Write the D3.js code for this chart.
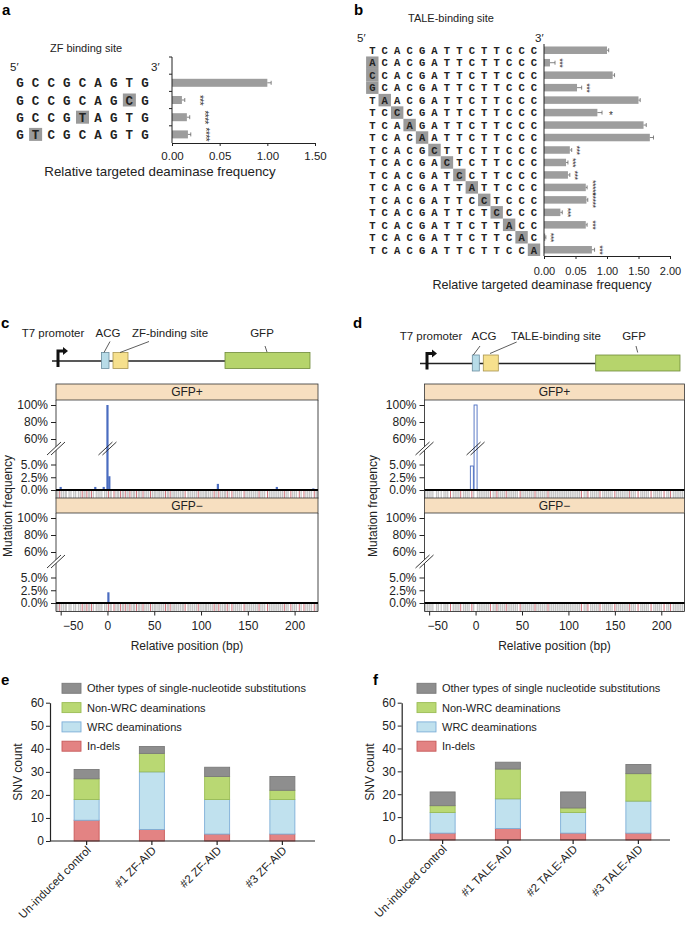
<!DOCTYPE html>
<html><head><meta charset="utf-8">
<script src="https://cdn.jsdelivr.net/npm/d3@7"></script>
<style>
body{margin:0;background:#fff;}
svg{display:block;font-family:"Liberation Sans",Arial,sans-serif;}
</style></head><body>
<svg id="fig" width="685" height="926"></svg>
<script>
// ================= DATA =================
// Panel a : ZF binding site variants
const zfSeqs  = ["GCCGCAGTG","GCCGCAGCG","GCCGTAGTG","GTCGCAGTG"];
const zfMut   = [-1, 7, 4, 1];
const zfFreq  = [1.00, 0.0104, 0.0156, 0.0167];
const zfErr   = [0.04, 0.003, 0.003, 0.003];
const zfStars = ["", "***", "****", "****"];
const zfTicks = [0, 0.05, 1.00, 1.50];

// Panel b : TALE binding site variants
const taleSeqs = ["TCACGATTCTTCCC","ACACGATTCTTCCC","CCACGATTCTTCCC","GCACGATTCTTCCC",
  "TAACGATTCTTCCC","TCCCGATTCTTCCC","TCAAGATTCTTCCC","TCACAATTCTTCCC","TCACGCTTCTTCCC",
  "TCACGACTCTTCCC","TCACGATCCTTCCC","TCACGATTATTCCC","TCACGATTCCTCCC","TCACGATTCTCCCC",
  "TCACGATTCTTACC","TCACGATTCTTCAC","TCACGATTCTTCCA"];
const taleMut   = [-1,0,0,0,1,2,3,4,5,6,7,8,9,10,11,12,13];
const taleFreq  = [1.00,0.0095,1.09,0.096,1.50,0.71,1.58,1.68,0.041,0.035,0.038,0.36,0.38,0.026,0.36,0.002,0.545];
const taleErr   = [0.027,0.008,0.03,0.14,0.027,0.14,0.043,0.058,0.003,0.003,0.003,0.04,0.04,0.003,0.04,0.001,0.08];
const taleStars = ["","***","","***","","*","","","***","***","***","*****","*****","***","***","***","***"];
const taleTicks = [0, 0.05, 1.00, 1.50, 2.00];

// Panels c/d : mutation frequency along reporter
const relTicks  = [-50, 0, 50, 100, 150, 200];
const freqTicks = [0, 2.5, 5, 60, 80, 100];
const zfPlusPos   = [-50, -13, -4, 0, 2, 118, 181, 220];
const zfPlusVal   = [0.6, 0.6, 0.6, 100, 2.7, 1.2, 0.6, 0.3];
const zfMinusPos  = [1];
const zfMinusVal  = [2.1];
const talePlusPos  = [-4, 0];
const talePlusVal  = [4.7, 100];
const taleMinusPos = [];
const taleMinusVal = [];
const zfRugRed  = [-51,-27,-22,-17,1,7,14,19,24,31,38,46,62,67,83,97,114,119,128,133,146,162,171,189,196,205,210,221];
const zfRugGray = [-54,-53,-49,-47,-45,-44,-41,-39,-36,-34,-31,-29,-25,-24,-20,-19,-15,-12,-10,-8,-6,-3,-1,3,4,9,11,12,16,17,21,22,26,28,29,33,34,36,40,42,44,48,50,51,53,55,56,58,60,64,65,69,71,72,74,76,78,80,81,86,87,89,91,93,95,99,101,103,105,106,108,110,112,116,117,121,123,125,126,130,135,137,139,141,143,148,150,152,154,156,158,160,164,166,168,173,175,177,179,181,183,185,187,191,193,198,200,202,207,212,214,216,218,223,224];
const taleRugRed  = [-27,-16,-4,16,23,33,48,64,78,114,121,134,150,166,175,189,203,210];
const taleRugGray = [-54,-52,-50,-48,-46,-42,-40,-37,-34,-32,-30,-24,-22,-20,-18,-13,-11,-9,-7,-2,2,4,6,8,10,12,14,19,21,25,27,29,31,35,37,39,41,43,45,50,52,54,56,58,60,62,66,68,70,72,74,76,80,82,84,86,88,90,92,94,96,98,100,102,104,106,108,110,112,117,119,124,126,128,130,132,137,139,141,143,145,147,152,154,156,158,160,162,164,168,170,172,178,180,182,184,186,192,194,196,198,200,206,208,213,215,217,219,221,223];

// Panels e/f : SNV counts
const snvKeys   = ["indels","wrc","nonwrc","other"];
const snvLabels = ["In-dels","WRC deaminations","Non-WRC deaminations","Other types of single-nucleotide substitutions"];
const snvLabelsF= ["In-dels","WRC deaminations","Non-WRC deaminations","Other types of single nucleotide substitutions"];
const eCats    = ["Un-induced control","#1 ZF-AID","#2 ZF-AID","#3 ZF-AID"];
const eIndels  = [9, 5, 3, 3];
const eWRC     = [9, 25, 15, 15];
const eNonWRC  = [9, 8, 10, 4];
const eOther   = [4, 3, 4, 6];
const fCats    = ["Un-induced control","#1 TALE-AID","#2 TALE-AID","#3 TALE-AID"];
const fIndels  = [3, 5, 3, 3];
const fWRC     = [9, 13, 9, 14];
const fNonWRC  = [3, 13, 2, 12];
const fOther   = [6, 3, 7, 4];
const snvTicks = [0, 10, 20, 30, 40, 50, 60];

// ================= STYLE =================
const MONO = "'Courier New','Liberation Mono',monospace";
const barGray = "#9d9d9d", hiGray = "#9a9a9a";
const segFill   = {indels:"#e38383", wrc:"#c0e1ee", nonwrc:"#b9d873", other:"#8e8e8e"};
const segStroke = {indels:"#c75a5a", wrc:"#7daed8", nonwrc:"#9bbd55", other:"#7a7a7a"};

const svg = d3.select("#fig");

function label(t, x, y){
  svg.append("text").attr("x",x).attr("y",y).attr("font-size",15).attr("font-weight","bold").text(t);
}
function styleAxis(g, fs){
  g.attr("font-family","Liberation Sans, Arial, sans-serif").attr("font-size",fs);
  g.selectAll("text").attr("fill","#222");
  g.selectAll("line,path").attr("stroke","#222");
}

// ================= PANEL A / B =================
function seqPanel(o){
  const g = svg.append("g");
  const rows = (o.header ? ["hdr"] : []).concat(d3.range(o.seqs.length));
  const y = d3.scaleBand().domain(rows).range([o.y0, o.y1]);
  const n = o.ticks.length;
  const x = d3.scaleLinear().domain(o.ticks).range(o.ticks.map((d,i)=> o.x0 + i*(o.x1-o.x0)/(n-1)));
  const L = o.seqs[0].length;
  const xl = d3.scalePoint().domain(d3.range(L)).range([o.l0, o.l1]);
  const cy = i => y(i) + y.bandwidth()/2;

  g.append("text").attr("x",o.titleX).attr("y",o.titleY).attr("text-anchor","middle").attr("font-size",11).attr("fill","#222").text(o.title);
  g.append("text").attr("x",o.p5x).attr("y",o.primeY).attr("font-size",11.5).attr("fill","#222").text("5′");
  g.append("text").attr("x",o.p3x).attr("y",o.primeY).attr("font-size",11.5).attr("fill","#222").text("3′");

  o.seqs.forEach((s,i)=>{
    if(o.mut[i] >= 0){
      g.append("rect").attr("x", xl(o.mut[i]) - o.box/2).attr("y", cy(i) - o.boxH/2)
        .attr("width", o.box).attr("height", o.boxH).attr("fill", hiGray);
    }
    s.split("").forEach((c,j)=>{
      g.append("text").attr("x", xl(j)).attr("y", cy(i)).attr("dy","0.36em")
        .attr("text-anchor","middle").attr("font-family",MONO).attr("font-weight","bold")
        .attr("font-size",o.fs).attr("fill","#222").text(c);
    });
  });

  // bars
  const bh = o.barH;
  g.selectAll(".bar").data(o.freq).enter().append("rect")
    .attr("x", x(0)).attr("y",(d,i)=> cy(i)-bh/2)
    .attr("width",(d)=> x(d)-x(0)).attr("height",bh).attr("fill",barGray);
  // error bars
  o.freq.forEach((v,i)=>{
    const xe = x(v + o.err[i]);
    g.append("line").attr("x1",x(v)).attr("x2",xe).attr("y1",cy(i)).attr("y2",cy(i)).attr("stroke","#666").attr("stroke-width",0.8);
    g.append("line").attr("x1",xe).attr("x2",xe).attr("y1",cy(i)-2).attr("y2",cy(i)+2).attr("stroke","#666").attr("stroke-width",0.8);
    if(o.stars[i]){
      const sx = xe + (o.stars[i] === "*" ? o.starOff1 : o.starOff);
      if(o.stars[i] === "*"){
        g.append("text").attr("x",sx).attr("y",cy(i)).attr("dy","0.6em").attr("text-anchor","middle")
          .attr("font-size",o.starFs+1).attr("fill","#333").text("*");
      } else {
        g.append("text").attr("transform",`translate(${sx},${cy(i)}) rotate(90)`).attr("dy","0.62em")
          .attr("text-anchor","middle").attr("font-size",o.starFs).attr("letter-spacing",-0.5).attr("fill","#333").text(o.stars[i]);
      }
    }
  });

  // axes
  g.append("line").attr("x1",o.x0).attr("x2",o.x0).attr("y1",o.y0).attr("y2",o.y1).attr("stroke","#222");
  if(o.header){
    rows.forEach(r=>{
      g.append("line").attr("x1",o.x0-3).attr("x2",o.x0).attr("y1",y(r)).attr("y2",y(r)).attr("stroke","#222");
    });
  }
  const ax = g.append("g").attr("transform",`translate(0,${o.y1})`)
    .call(d3.axisBottom(x).tickValues(o.ticks).tickFormat(d3.format(".2f")).tickSize(3).tickPadding(o.tickPad).tickSizeOuter(0));
  styleAxis(ax, o.tickFs);
  g.append("text").attr("x",o.xlabX).attr("y",o.xlabY).attr("text-anchor","middle").attr("font-size",o.xlabFs).attr("fill","#222")
    .text("Relative targeted deaminase frequency");
}

label("a", 2, 15);
seqPanel({seqs:zfSeqs, mut:zfMut, freq:zfFreq, err:zfErr, stars:zfStars, ticks:zfTicks, header:true,
  y0:57, y1:143, x0:172, x1:315, l0:20, l1:145, fs:12.5, box:13, boxH:13, barH:8,
  title:"ZF binding site", titleX:86, titleY:52, p5x:10, p3x:151, primeY:71,
  starOff:17, starOff1:12, starFs:10, tickPad:6, tickFs:11.5, xlabX:160, xlabY:176, xlabFs:13.3});

label("b", 354, 15);
seqPanel({seqs:taleSeqs, mut:taleMut, freq:taleFreq, err:taleErr, stars:taleStars, ticks:taleTicks, header:false,
  y0:44, y1:256, x0:544, x1:670, l0:372.3, l1:534, fs:10.5, box:12.4, boxH:12.5, barH:7.5,
  title:"TALE-binding site", titleX:451, titleY:22, p5x:357, p3x:535, primeY:42,
  starOff:8, starOff1:9, starFs:9, tickPad:8, tickFs:11, xlabX:542, xlabY:289, xlabFs:12.6});

// ================= PANEL C / D =================
function mutPanel(o){
  const g = svg.append("g");
  const dy = o.dy;
  // --- construct diagram ---
  g.append("line").attr("x1",o.lineX0).attr("x2",o.gfp[0]).attr("y1",361+dy).attr("y2",361+dy).attr("stroke","#222").attr("stroke-width",1.3);
  const px = o.promX;
  g.append("path").attr("d",`M${px},${367+dy} V${351+dy} H${px+6}`).attr("fill","none").attr("stroke","#111").attr("stroke-width",3);
  g.append("path").attr("d",`M${px+5},${347+dy} L${px+10},${351+dy} L${px+5},${355+dy} Z`).attr("fill","#111");
  g.append("rect").attr("x",o.acg[0]).attr("y",352.5+dy).attr("width",o.acg[1]-o.acg[0]).attr("height",16).attr("fill","#b8dce8").attr("stroke","#6b8ea0").attr("stroke-width",0.8);
  g.append("rect").attr("x",o.bind[0]).attr("y",352.5+dy).attr("width",o.bind[1]-o.bind[0]).attr("height",16).attr("fill","#f6e08d").attr("stroke","#a89450").attr("stroke-width",0.8);
  g.append("rect").attr("x",o.gfp[0]).attr("y",352.5+dy).attr("width",o.gfp[1]-o.gfp[0]).attr("height",16).attr("fill","#b6d46c").attr("stroke","#6f8a3a").attr("stroke-width",0.8);
  const ty = 337 + dy;
  [["T7 promoter",o.lab[0]],["ACG",o.lab[1]],[o.bindName,o.lab[2]],["GFP",o.lab[3]]].forEach(([t,xx])=>{
    g.append("text").attr("x",xx).attr("y",ty).attr("text-anchor","middle").attr("font-size",11.5).attr("fill","#222").text(t);
  });
  o.leaders.forEach(l=>{
    g.append("line").attr("x1",l[0]).attr("y1",l[1]+dy).attr("x2",l[2]).attr("y2",l[3]+dy).attr("stroke","#333").attr("stroke-width",0.8);
  });

  // --- plots ---
  const fL = o.fL, fR = o.fR;
  const x = d3.scaleLinear().domain([-55,225]).range([fL,fR]);
  const panels = [
    {name:"GFP+", sTop:384, pTop:400, pos:o.plusPos, val:o.plusVal, barBreak:true},
    {name:"GFP−", sTop:498, pTop:513, pos:o.minusPos, val:o.minusVal, barBreak:false}
  ];
  panels.forEach(p=>{
    const y = d3.scaleLinear().domain([0,5,60,100]).range([p.pTop+90, p.pTop+64.5, p.pTop+39, p.pTop+5]);
    // strip
    g.append("rect").attr("x",fL).attr("y",p.sTop).attr("width",fR-fL).attr("height",p.pTop-p.sTop).attr("fill","#f7dfc0").attr("stroke","#333").attr("stroke-width",0.8);
    g.append("text").attr("x",(fL+fR)/2).attr("y",(p.sTop+p.pTop)/2).attr("dy","0.36em").attr("text-anchor","middle").attr("font-size",12).attr("fill","#222").text(p.name);
    // rug
    const r0 = p.pTop+90, r1 = p.pTop+98.5;
    o.rugGray.forEach(b=> g.append("line").attr("x1",x(b)).attr("x2",x(b)).attr("y1",r0).attr("y2",r1).attr("stroke","#c4c4c4").attr("stroke-width",1.3));
    o.rugRed.forEach(b=> g.append("line").attr("x1",x(b)).attr("x2",x(b)).attr("y1",r0).attr("y2",r1).attr("stroke","#c8606a").attr("stroke-width",0.9));
    // bars
    p.pos.forEach((b,i)=>{
      if(o.outline){
        g.append("rect").attr("x",x(b)-1.5).attr("y",y(p.val[i])).attr("width",3).attr("height",y(0)-y(p.val[i]))
          .attr("fill","#fff").attr("stroke","#4a6cc0").attr("stroke-width",0.9);
      } else {
        g.append("rect").attr("x",x(b)-1.1).attr("y",y(p.val[i])).attr("width",2.2).attr("height",y(0)-y(p.val[i])).attr("fill","#4a6cc0");
      }
    });
    // frame sides
    g.append("line").attr("x1",fL).attr("x2",fL).attr("y1",p.pTop).attr("y2",r1).attr("stroke","#333").attr("stroke-width",0.9);
    g.append("line").attr("x1",fR).attr("x2",fR).attr("y1",p.pTop).attr("y2",r1).attr("stroke","#333").attr("stroke-width",0.9);
    // baseline
    g.append("line").attr("x1",fL).attr("x2",fR).attr("y1",y(0)).attr("y2",y(0)).attr("stroke","#000").attr("stroke-width",2);
    // y axis
    const ay = g.append("g").attr("transform",`translate(${fL},0)`)
      .call(d3.axisLeft(y).tickValues(freqTicks).tickFormat(d=> d>=60 ? d+"%" : d.toFixed(1)+"%").tickSize(5).tickPadding(3).tickSizeOuter(0));
    styleAxis(ay, 12);
    ay.select(".domain").remove();
    // breaks
    const by = p.pTop + 48.5;
    const brk = (cx, fillWhite)=>{
      if(fillWhite) g.append("path").attr("d",`M${cx-9},${by+6.5} L${cx+5},${by-6.5} L${cx+9},${by-6.5} L${cx-5},${by+6.5} Z`).attr("fill","#fff");
      g.append("line").attr("x1",cx-9).attr("y1",by+6.5).attr("x2",cx+5).attr("y2",by-6.5).attr("stroke","#222").attr("stroke-width",0.9);
      g.append("line").attr("x1",cx-5).attr("y1",by+6.5).attr("x2",cx+9).attr("y2",by-6.5).attr("stroke","#222").attr("stroke-width",0.9);
    };
    brk(fL, true);
    if(p.barBreak) brk(x(0), false);
    // bottom frame line
    g.append("line").attr("x1",fL).attr("x2",fR).attr("y1",r1).attr("y2",r1).attr("stroke","#333").attr("stroke-width",0.9);
  });
  // x axis
  const ax = g.append("g").attr("transform",`translate(0,${611.5})`)
    .call(d3.axisBottom(x).tickValues(relTicks).tickSize(4).tickPadding(6).tickSizeOuter(0));
  styleAxis(ax, 12);
  ax.select(".domain").remove();
  ax.selectAll(".tick").filter(d=> d === -50).select("text").attr("dx", o.m50dx);
  g.append("text").attr("x",(fL+fR)/2).attr("y",650).attr("text-anchor","middle").attr("font-size",12).attr("fill","#222").text("Relative position (bp)");
  g.append("text").attr("transform",`translate(${o.ylabX},506) rotate(-90)`).attr("text-anchor","middle").attr("font-size",12).attr("fill","#222").text("Mutation frequency");
}

label("c", 1, 328);
mutPanel({dy:0, lineX0:52, promX:58, acg:[101.5,109], bind:[113,128], gfp:[225,310],
  bindName:"ZF-binding site", lab:[53,108,170,262],
  leaders:[[110,341.5,104,352.5],[149,341.5,120,352.5],[265,346,267,352]],
  fL:56, fR:318, plusPos:zfPlusPos, plusVal:zfPlusVal, minusPos:zfMinusPos, minusVal:zfMinusVal,
  rugRed:zfRugRed, rugGray:zfRugGray, outline:false, m50dx:12, ylabX:12});

label("d", 353, 328);
mutPanel({dy:2.5, lineX0:420, promX:427, acg:[472.3,479.3], bind:[483.3,498.3], gfp:[595.7,680],
  bindName:"TALE-binding site", lab:[431,484,556,634],
  leaders:[[480,343.5,473.3,352.5],[516.7,339.5,490,351],[636,343.5,637.7,350]],
  fL:424.5, fR:684.5, plusPos:talePlusPos, plusVal:talePlusVal, minusPos:taleMinusPos, minusVal:taleMinusVal,
  rugRed:taleRugRed, rugGray:taleRugGray, outline:true, m50dx:8, ylabX:377});

// ================= PANEL E / F =================
function snvPanel(o){
  const g = svg.append("g");
  const data = o.cats.map((c,i)=>({cat:c, indels:o.indels[i], wrc:o.wrc[i], nonwrc:o.nonwrc[i], other:o.other[i]}));
  const stack = d3.stack().keys(snvKeys)(data);
  const y = d3.scaleLinear().domain([0,60]).range([o.yb, o.yt]);
  const x = d3.scaleBand().domain(o.cats).range([o.bx0, o.bx1]).paddingInner(0.617).paddingOuter(0.3085);
  stack.forEach(layer=>{
    g.selectAll(null).data(layer).enter().append("rect")
      .attr("x", d=> x(d.data.cat)).attr("width", x.bandwidth())
      .attr("y", d=> y(d[1])).attr("height", d=> y(d[0]) - y(d[1]))
      .attr("fill", segFill[layer.key]).attr("stroke", segStroke[layer.key]).attr("stroke-width",0.9);
  });
  // axes
  const ay = g.append("g").attr("transform",`translate(${o.ax},0)`)
    .call(d3.axisLeft(y).tickValues(snvTicks).tickSize(4).tickPadding(2).tickSizeOuter(0));
  styleAxis(ay, 12);
  ay.select(".domain").attr("stroke-width",1.2);
  g.append("line").attr("x1",o.ax).attr("x2",o.axR).attr("y1",o.yb).attr("y2",o.yb).attr("stroke","#222").attr("stroke-width",1.2);
  o.cats.forEach(c=>{
    const cx = x(c) + x.bandwidth()/2;
    g.append("line").attr("x1",cx).attr("x2",cx).attr("y1",o.yb).attr("y2",o.yb+4).attr("stroke","#222").attr("stroke-width",1.2);
    g.append("text").attr("transform",`translate(${cx+5},${o.yb+10}) rotate(-45)`).attr("text-anchor","end")
      .attr("font-size",11.5).attr("fill","#222").text(c);
  });
  g.append("text").attr("transform",`translate(${o.ylabX},772) rotate(-90)`).attr("text-anchor","middle").attr("font-size",12).attr("fill","#222").text("SNV count");
  // legend (top-down: other, nonwrc, wrc, indels)
  const order = [3,2,1,0];
  order.forEach((k,r)=>{
    const ly = 688.3 + r*19.3;
    g.append("rect").attr("x",o.lx).attr("y",ly-5).attr("width",19).attr("height",10)
      .attr("fill",segFill[snvKeys[k]]).attr("stroke",segStroke[snvKeys[k]]).attr("stroke-width",0.9);
    g.append("text").attr("x",o.lx+25).attr("y",ly).attr("dy","0.36em").attr("font-size",11).attr("fill","#222").text(o.labels[k]);
  });
}

label("e", 1, 685);
snvPanel({cats:eCats, indels:eIndels, wrc:eWRC, nonwrc:eNonWRC, other:eOther, labels:snvLabels,
  yb:841, yt:702.7, bx0:54, bx1:315, ax:50, axR:315, lx:62, ylabX:22});

label("f", 373, 685);
snvPanel({cats:fCats, indels:fIndels, wrc:fWRC, nonwrc:fNonWRC, other:fOther, labels:snvLabelsF,
  yb:840, yt:702.7, bx0:410, bx1:671, ax:401.7, axR:670, lx:417, ylabX:374});
</script>
</body></html>
